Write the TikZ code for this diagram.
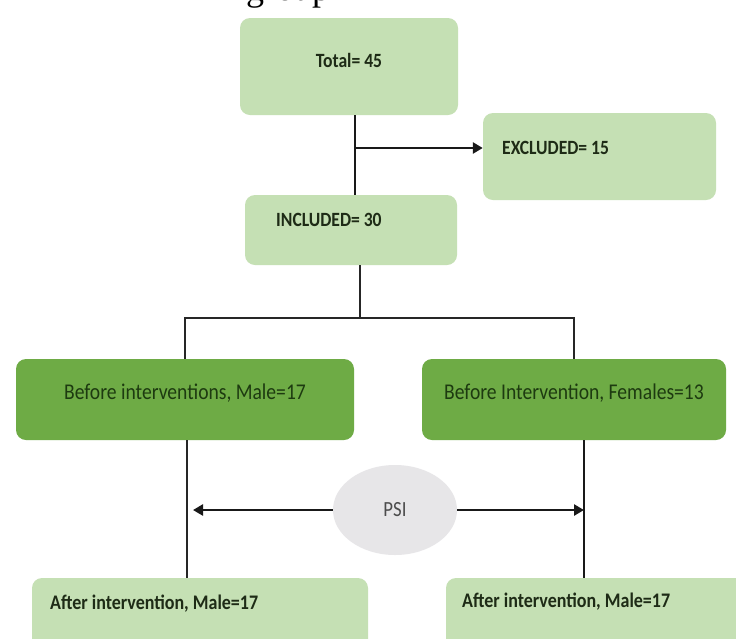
\documentclass[tikz,border=0pt]{standalone}
\usepackage{fontspec}
\usepackage{graphicx}
\setmainfont{Carlito}
\newfontfamily\capfont{Liberation Serif}
\usetikzlibrary{arrows.meta,shapes.geometric}
\definecolor{lgreen}{HTML}{C5E0B4}
\definecolor{dgreen}{HTML}{6EAB45}
\definecolor{psigray}{HTML}{E7E6E8}
\definecolor{txtdark}{HTML}{1E2B16}
\definecolor{txtgreen}{HTML}{1D3A10}
\newcommand\talltext[1]{\scalebox{1}[1.15]{#1}}
\begin{document}
\begin{tikzpicture}[x=1pt,y=-1pt,
  lbox/.style={rectangle, rounded corners=10pt, fill=lgreen, draw=none, inner sep=0},
  dbox/.style={rectangle, rounded corners=10pt, fill=dgreen, draw=none, inner sep=0},
  btxt/.style={font=\fontsize{17.6}{20}\selectfont\bfseries, text=txtdark, inner sep=0},
  rtxt/.style={font=\fontsize{19.6}{22}\selectfont, text=txtgreen, inner sep=0},
  psistyle/.style={ellipse, fill=psigray, draw=none, minimum width=124pt, minimum height=90pt, inner sep=0,
    font=\fontsize{18.8}{22}\selectfont, text=black!70},
  conn/.style={draw=black!90, line width=2.8pt},
  thinconn/.style={draw=black!85, line width=2pt},
  arr/.style={conn, -{Triangle[length=10pt,width=11pt]}}]
\useasboundingbox (0,0) rectangle (736,638);
\begin{scope}
\clip (0,0) rectangle (736,638);
\fill[white] (0,0) rectangle (736,638);
% cropped caption line at the top
\node[font=\capfont\fontsize{36}{40}\selectfont, anchor=base west, inner sep=0] (cap) at (246,0) {group};
% boxes
\node[lbox, minimum width=218pt, minimum height=97pt] (total) at (349,66.5) {};
\node[lbox, minimum width=233pt, minimum height=87pt] (excl) at (599.5,156.5) {};
\node[lbox, minimum width=212pt, minimum height=70pt] (incl) at (351,230) {};
\node[dbox, minimum width=338pt, minimum height=81pt] (bl) at (185,399.5) {};
\node[dbox, minimum width=304pt, minimum height=81pt] (br) at (574,399.5) {};
\node[lbox, minimum width=336pt, minimum height=90pt] (al) at (200,623) {};
\node[lbox, minimum width=324pt, minimum height=90pt] (ar) at (608,623) {};
\node[psistyle] (psi) at (395,510) {\talltext{PSI}};
% texts
\node[btxt] (totaltxt) at (349,60) {\talltext{Total= 45}};
\node[btxt, anchor=west] (excltxt) at (502,148) {\talltext{EXCLUDED= 15}};
\node[btxt, anchor=west] (incltxt) at (276,220) {\talltext{INCLUDED= 30}};
\node[rtxt] (bltxt) at (185,393) {\talltext{Before interventions, Male=17}};
\node[rtxt] (brtxt) at (574,393) {\talltext{Before Intervention, Females=13}};
\node[btxt, font=\fontsize{18}{20}\selectfont\bfseries, anchor=west] (altxt) at (50,604) {\talltext{After intervention, Male=17}};
\node[btxt, font=\fontsize{18}{20}\selectfont\bfseries, anchor=west] (artxt) at (462,602) {\talltext{After intervention, Male=17}};
% connectors
\draw[conn] ([xshift=6pt]total.south) -- ([xshift=4pt]incl.north);
\coordinate (j1) at (355,148);
\draw[arr] (j1) -- (j1 -| excl.west);
\coordinate (split) at (360,318);
\draw[thinconn] (incl.south -| split) -- (split);
\draw[thinconn] (bl.north) |- (split) -| (br.north);
\draw[thinconn] ([xshift=2pt]bl.south) -- ([xshift=2pt]bl.south |- al.north);
\draw[conn] ([xshift=10pt]br.south) -- ([xshift=10pt]br.south |- ar.north);
\draw[arr] (psi.west) -- ([xshift=8pt]bl.south |- psi.west);
\draw[arr] (psi.east) -- ([xshift=10pt]br.south |- psi.east);
\end{scope}
\end{tikzpicture}
\end{document}
